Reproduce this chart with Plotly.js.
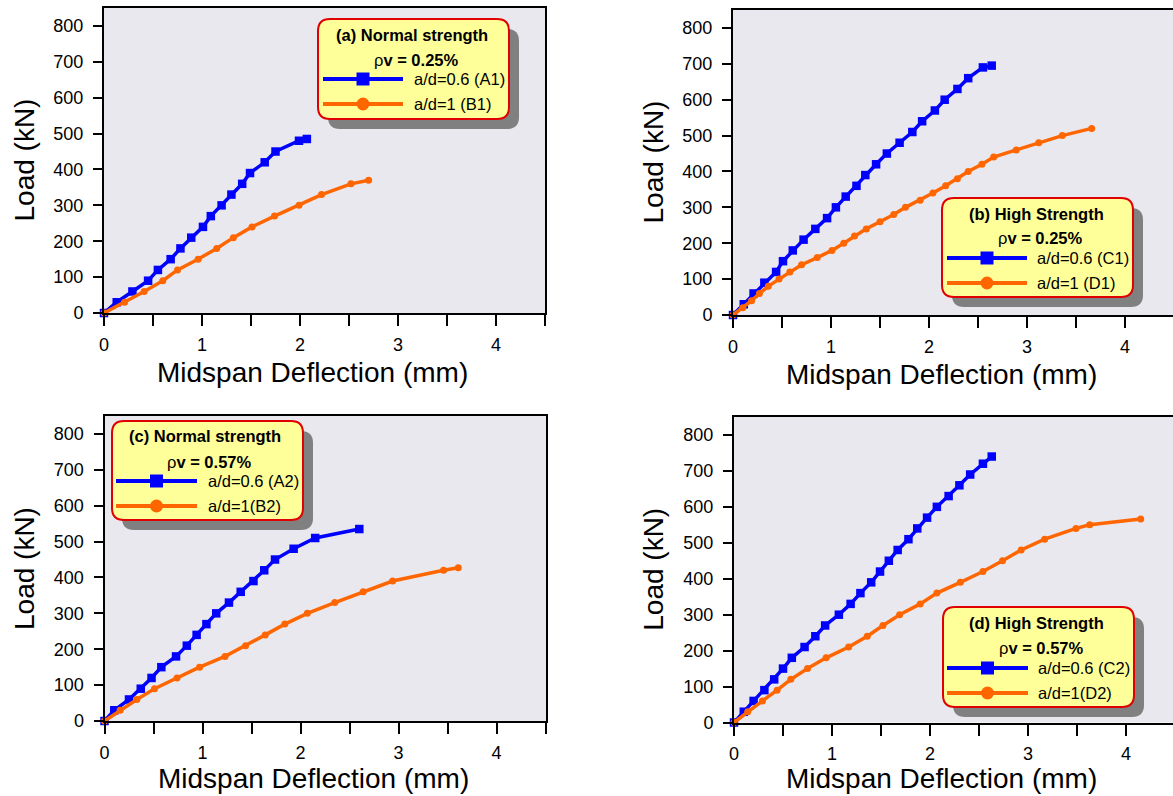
<!DOCTYPE html>
<html><head><meta charset="utf-8">
<script src="https://cdn.plot.ly/plotly-3.0.1.min.js"></script>
<style>html,body{margin:0;padding:0;background:#fff}#chart{width:1173px;height:796px}</style>
</head><body><div id="chart"></div>
<script>
// ---------- data (deflection in mm, load in kN) ----------
const A1_defl = [0,0.13,0.29,0.45,0.55,0.68,0.78,0.89,1.01,1.09,1.20,1.30,1.41,1.49,1.64,1.75,1.99,2.07];
const A1_load = [0,30,60,90,120,150,180,210,240,270,300,330,360,390,420,450,480,485];
const B1_defl = [0,0.21,0.41,0.60,0.75,0.96,1.15,1.32,1.51,1.74,1.99,2.22,2.52,2.70];
const B1_load = [0,30,60,90,120,150,180,210,240,270,300,330,360,370];

const C1_defl = [0,0.11,0.21,0.32,0.44,0.51,0.61,0.72,0.84,0.96,1.05,1.15,1.26,1.35,1.46,1.57,1.70,1.83,1.93,2.06,2.16,2.29,2.40,2.55,2.64];
const C1_load = [0,30,60,90,120,150,180,210,240,270,300,330,360,390,420,450,480,510,540,570,600,630,660,690,695];
const D1_defl = [0,0.10,0.19,0.27,0.36,0.47,0.58,0.70,0.86,1.01,1.13,1.24,1.36,1.50,1.64,1.76,1.91,2.04,2.17,2.29,2.40,2.54,2.66,2.89,3.12,3.36,3.66];
const D1_load = [0,20,40,60,80,100,120,140,160,180,200,220,240,260,280,300,320,340,360,380,400,420,440,460,480,500,520];

const A2_defl = [0,0.10,0.25,0.37,0.48,0.58,0.73,0.84,0.94,1.04,1.14,1.27,1.39,1.52,1.63,1.74,1.93,2.15,2.60];
const A2_load = [0,30,60,90,120,150,180,210,240,270,300,330,360,390,420,450,480,510,535];
const B2_defl = [0,0.16,0.33,0.51,0.74,0.97,1.23,1.44,1.64,1.84,2.07,2.35,2.64,2.94,3.46,3.61];
const B2_load = [0,30,60,90,120,150,180,210,240,270,300,330,360,390,420,427];

const C2_defl = [0,0.10,0.20,0.31,0.41,0.50,0.59,0.72,0.83,0.93,1.07,1.19,1.29,1.40,1.49,1.58,1.67,1.78,1.87,1.97,2.07,2.19,2.30,2.41,2.54,2.63];
const C2_load = [0,30,60,90,120,150,180,210,240,270,300,330,360,390,420,450,480,510,540,570,600,630,660,690,720,740];
const D2_defl = [0,0.14,0.29,0.44,0.58,0.75,0.94,1.17,1.36,1.52,1.69,1.90,2.07,2.31,2.54,2.74,2.93,3.17,3.49,3.63,4.15];
const D2_load = [0,30,60,90,120,150,180,210,240,270,300,330,360,390,420,450,480,510,540,550,566];

const panelTitles = ["(a) Normal strength","(b) High Strength","(c) Normal strength","(d) High Strength"];
const rhoValues = ["0.25%","0.25%","0.57%","0.57%"];
const blueNames = ["a/d=0.6 (A1)","a/d=0.6 (C1)","a/d=0.6 (A2)","a/d=0.6 (C2)"];
const orangeNames = ["a/d=1 (B1)","a/d=1 (D1)","a/d=1(B2)","a/d=1(D2)"];
const xTitle = "Midspan Deflection (mm)";
const yTitle = "Load (kN)";

// ---------- layout helpers ----------
const W = 1173, H = 796;
const X = p => p / W, Y = p => 1 - p / H;
const BLUE = '#0000FF', ORANGE = '#FF6600';

const seriesBlue = [[A1_defl,A1_load],[C1_defl,C1_load],[A2_defl,A2_load],[C2_defl,C2_load]];
const seriesOrange = [[B1_defl,B1_load],[D1_defl,D1_load],[B2_defl,B2_load],[D2_defl,D2_load]];

// panel plot areas in px: left, top, right, bottom
const panels = [
  {l:104, t:8,   r:545,  b:313},
  {l:733, t:10,  r:1173, b:315},
  {l:104.5, t:416, r:546, b:721},
  {l:734, t:417, r:1173, b:722.5}
];
const pxPerMm = 98;

// legend boxes (px)
const legends = [
  {L:318, T:19,  R:509,  B:119, tx:412,  ty:35,  rx:416,  ry:60,  lx1:323, lx2:403,  y1:79,  y2:104, txt:412},
  {L:942, T:198, R:1133, B:297, tx:1036, ty:214, rx:1040, ry:238, lx1:947, lx2:1027, y1:258, y2:283, txt:1035},
  {L:112, T:421, R:303,  B:520, tx:205,  ty:436, rx:209,  ry:462, lx1:116, lx2:197,  y1:481, y2:506, txt:206},
  {L:943, T:607, R:1134, B:707, tx:1036, ty:623, rx:1041, ry:648, lx1:947, lx2:1028, y1:668, y2:693, txt:1036}
];

function roundRect(L,T,R,B,r){
  const p = [
    `M ${X(L+r)} ${Y(T)}`, `L ${X(R-r)} ${Y(T)}`, `Q ${X(R)} ${Y(T)} ${X(R)} ${Y(T+r)}`,
    `L ${X(R)} ${Y(B-r)}`, `Q ${X(R)} ${Y(B)} ${X(R-r)} ${Y(B)}`,
    `L ${X(L+r)} ${Y(B)}`, `Q ${X(L)} ${Y(B)} ${X(L)} ${Y(B-r)}`,
    `L ${X(L)} ${Y(T+r)}`, `Q ${X(L)} ${Y(T)} ${X(L+r)} ${Y(T)}`, 'Z'];
  return p.join(' ');
}

const traces = [];
const layout = {
  width: W, height: H,
  margin: {l:0, r:0, t:0, b:0},
  paper_bgcolor: '#ffffff',
  plot_bgcolor: '#E9E8EE',
  showlegend: false,
  font: {family: 'Liberation Sans, Arial, sans-serif', color: '#000'},
  shapes: [], annotations: []
};

panels.forEach((p, i) => {
  const n = i === 0 ? '' : String(i + 1);
  const xa = 'x' + n, ya = 'y' + n;
  const xRange = (p.r - p.l) / pxPerMm;
  layout['xaxis' + n] = {
    domain: [X(p.l), Math.min(1, X(p.r))], anchor: ya,
    range: [0, xRange], dtick: 1, tick0: 0,
    showgrid: false, zeroline: false,
    showline: true, linecolor: '#000', linewidth: 2, mirror: true,
    ticks: 'outside', ticklen: 11, tickwidth: 2, tickcolor: '#000',
    ticklabelstandoff: 3,
    minor: {dtick: 0.5, tick0: 0, ticks: 'outside', ticklen: 11, tickwidth: 2, tickcolor: '#000', showgrid: false},
    tickfont: {size: 18, family: 'Liberation Sans, Arial, sans-serif'}
  };
  layout['yaxis' + n] = {
    domain: [Y(p.b), Y(p.t)], anchor: xa,
    range: [0, 850], dtick: 100, tick0: 0,
    showgrid: false, zeroline: false,
    showline: true, linecolor: '#000', linewidth: 2, mirror: true,
    ticks: 'outside', ticklen: 9, tickwidth: 2, tickcolor: '#000',
    ticklabelstandoff: 6,
    tickfont: {size: 18, family: 'Liberation Sans, Arial, sans-serif'}
  };

  traces.push({
    x: seriesBlue[i][0], y: seriesBlue[i][1], xaxis: xa, yaxis: ya,
    type: 'scatter', mode: 'lines+markers', name: blueNames[i], cliponaxis: false,
    line: {color: BLUE, width: 3.5}, marker: {symbol: 'square', size: 8.5, color: BLUE}
  });
  traces.push({
    x: seriesOrange[i][0], y: seriesOrange[i][1], xaxis: xa, yaxis: ya,
    type: 'scatter', mode: 'lines+markers', name: orangeNames[i], cliponaxis: false,
    line: {color: ORANGE, width: 3.5}, marker: {symbol: 'circle', size: 7, color: ORANGE}
  });

  // axis titles
  layout.annotations.push({
    xref: 'paper', yref: 'paper', x: X((p.l + p.r) / 2 - 12), y: Y(Math.min(H, p.b + 77)),
    xanchor: 'center', yanchor: 'bottom', showarrow: false,
    text: xTitle, font: {size: 28}
  });
  layout.annotations.push({
    xref: 'paper', yref: 'paper', x: X(p.l - 80), y: Y((p.t + p.b) / 2),
    xanchor: 'center', yanchor: 'middle', showarrow: false, textangle: -90,
    text: yTitle, font: {size: 28}
  });

  // legend box
  const g = legends[i];
  layout.shapes.push({type: 'path', xref: 'paper', yref: 'paper', path: roundRect(g.L+10, g.T+10, g.R+10, g.B+10, 12),
    fillcolor: '#808080', line: {width: 0}});
  layout.shapes.push({type: 'path', xref: 'paper', yref: 'paper', path: roundRect(g.L, g.T, g.R, g.B, 12),
    fillcolor: '#FFFF99', line: {color: '#E00000', width: 2}});
  layout.shapes.push({type: 'line', xref: 'paper', yref: 'paper', x0: X(g.lx1), x1: X(g.lx2), y0: Y(g.y1), y1: Y(g.y1),
    line: {color: BLUE, width: 4}});
  layout.shapes.push({type: 'line', xref: 'paper', yref: 'paper', x0: X(g.lx1), x1: X(g.lx2), y0: Y(g.y2), y1: Y(g.y2),
    line: {color: ORANGE, width: 4}});
  const mx = (g.lx1 + g.lx2) / 2;
  layout.shapes.push({type: 'rect', xref: 'paper', yref: 'paper', x0: X(mx-6.5), x1: X(mx+6.5), y0: Y(g.y1-6.5), y1: Y(g.y1+6.5),
    fillcolor: BLUE, line: {width: 0}});
  layout.shapes.push({type: 'circle', xref: 'paper', yref: 'paper', x0: X(mx-6.5), x1: X(mx+6.5), y0: Y(g.y2-6.5), y1: Y(g.y2+6.5),
    fillcolor: ORANGE, line: {width: 0}});

  layout.annotations.push({xref: 'paper', yref: 'paper', x: X(g.tx), y: Y(g.ty), xanchor: 'center', yanchor: 'middle',
    showarrow: false, text: '<b>' + panelTitles[i] + '</b>', font: {size: 16.5}});
  layout.annotations.push({xref: 'paper', yref: 'paper', x: X(g.rx), y: Y(g.ry), xanchor: 'center', yanchor: 'middle',
    showarrow: false, text: 'ρ<b>v = ' + rhoValues[i] + '</b>', font: {size: 16.5}});
  layout.annotations.push({xref: 'paper', yref: 'paper', x: X(g.txt), y: Y(g.y1), xanchor: 'left', yanchor: 'middle',
    showarrow: false, text: blueNames[i], font: {size: 16.5}});
  layout.annotations.push({xref: 'paper', yref: 'paper', x: X(g.txt), y: Y(g.y2), xanchor: 'left', yanchor: 'middle',
    showarrow: false, text: orangeNames[i], font: {size: 16.5}});
});

Plotly.newPlot('chart', traces, layout, {staticPlot: true, displayModeBar: false});
</script>
</body></html>
